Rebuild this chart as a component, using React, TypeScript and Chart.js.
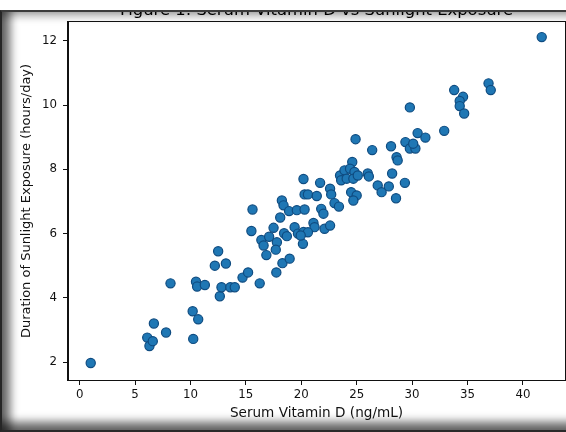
import React, { useEffect, useRef } from "react";
import { Chart, registerables } from "chart.js";

Chart.register(...registerables);

const chartTitle = "Figure 1: Serum Vitamin D vs Sunlight Exposure";
const xLabel = "Serum Vitamin D (ng/mL)";
const yLabel = "Duration of Sunlight Exposure (hours/day)";

const vitaminD = [
  1.0, 6.1, 6.3, 6.6, 6.7, 7.8, 8.2, 10.2, 10.25, 10.7,
  10.5, 10.6, 11.3, 12.2, 12.5, 13.2, 12.65, 12.8, 13.6, 14.0,
  14.7, 15.2, 16.25, 15.6, 15.5, 16.4, 16.6, 16.85, 17.1, 17.5,
  17.8, 17.7, 17.75, 18.3, 18.95, 18.1, 18.25, 18.4, 18.45, 18.7,
  18.9, 19.6, 20.3, 19.4, 19.7, 20.2, 20.15, 20.2, 21.7, 22.6,
  22.7, 20.3, 20.6, 21.4, 23.0, 23.4, 21.8, 22.0, 21.1, 21.2,
  22.1, 22.6, 20.6, 19.95, 24.9, 26.4, 24.6, 23.5, 23.9, 24.4,
  24.8, 23.6, 24.1, 24.7, 25.1, 26.0, 26.1, 24.5, 25.0, 24.7,
  26.9, 27.25, 27.9, 28.2, 29.35, 28.55, 28.1, 28.6, 28.7, 29.4,
  29.8, 30.3, 30.1, 30.5, 31.2, 32.9, 29.8, 33.8, 34.6, 34.3,
  34.3, 34.7, 36.9, 37.1, 41.7,
];

const sunlightHours = [
  1.97, 2.76, 2.5, 2.65, 3.2, 2.92, 4.45, 3.58, 2.72, 3.33,
  4.5, 4.35, 4.4, 5.0, 5.45, 5.07, 4.05, 4.33, 4.33, 4.33,
  4.63, 4.79, 4.45, 6.75, 6.08, 5.8, 5.63, 5.33, 5.9, 6.18,
  5.73, 5.5, 4.79, 5.08, 5.22, 6.5, 7.03, 6.88, 6.01, 5.92,
  6.7, 6.73, 6.75, 6.2, 6.0, 6.05, 5.68, 7.7, 7.58, 7.4,
  7.22, 7.22, 7.22, 7.17, 6.95, 6.84, 6.77, 6.62, 6.33, 6.2,
  6.15, 6.25, 6.04, 5.94, 8.94, 8.6, 8.23, 7.81, 7.97, 8.02,
  7.92, 7.66, 7.71, 7.71, 7.81, 7.87, 7.78, 7.29, 7.19, 7.03,
  7.5, 7.29, 7.47, 7.87, 7.58, 7.1, 8.72, 8.38, 8.28, 8.85,
  8.65, 8.65, 8.8, 9.13, 8.99, 9.2, 9.93, 10.47, 10.26, 10.13,
  9.97, 9.74, 10.68, 10.47, 12.12,
];

const xMin = -1.05;
const xMax = 43.8;
const yMin = 1.44;
const yMax = 12.59;
const xStep = 5;
const yStep = 2;

const FONT = "'DejaVu Sans', sans-serif";

export default function App() {
  const canvasRef = useRef<HTMLCanvasElement | null>(null);

  useEffect(() => {
    const canvas = canvasRef.current;
    if (!canvas) return;

    const framePlugin = {
      id: "framePlugin",
      afterDraw(chart: any) {
        const { ctx, chartArea } = chart;
        const { left, right, top, bottom } = chartArea;
        ctx.save();
        ctx.strokeStyle = "#111";
        ctx.lineWidth = 1;
        ctx.strokeRect(left - 0.5, top - 0.5, right - left + 1, bottom - top + 1);
        ctx.fillStyle = "#000";
        ctx.font = `16.4px ${FONT}`;
        ctx.textAlign = "center";
        ctx.textBaseline = "alphabetic";
        ctx.fillText(chartTitle, (left + right) / 2, 14.5);
        ctx.restore();
      },
    };

    const chart = new Chart(canvas, {
      type: "scatter",
      data: {
        datasets: [
          {
            data: vitaminD.map((x, i) => ({ x, y: sunlightHours[i] })),
            backgroundColor: "#1f77b4",
            borderColor: "#0f4c81",
            borderWidth: 1.2,
            pointRadius: 4.6,
            pointHoverRadius: 4.6,
          },
        ],
      },
      options: {
        animation: false,
        responsive: false,
        devicePixelRatio: 1,
        layout: { autoPadding: false, padding: { left: 0, right: 1, top: 22, bottom: 0 } },
        plugins: {
          legend: { display: false },
          tooltip: { enabled: false },
          title: { display: false },
        },
        scales: {
          x: {
            type: "linear",
            min: xMin,
            max: xMax,
            afterFit(scale: any) {
              scale.height = 52;
            },
            ticks: {
              stepSize: xStep,
              includeBounds: false,
              color: "#111",
              font: { family: FONT, size: 11.8 },
              padding: 3,
              maxRotation: 0,
            },
            grid: {
              display: true,
              drawOnChartArea: false,
              drawTicks: true,
              tickLength: 5,
              color: "#111",
            },
            border: { display: true, color: "#111" },
            title: {
              display: true,
              text: xLabel,
              color: "#111",
              font: { family: FONT, size: 13.6 },
              padding: { top: 0, bottom: 10 },
            },
          },
          y: {
            type: "linear",
            min: yMin,
            max: yMax,
            afterFit(scale: any) {
              scale.width = 68;
            },
            ticks: {
              stepSize: yStep,
              includeBounds: false,
              color: "#111",
              font: { family: FONT, size: 11.8 },
              padding: 6,
            },
            grid: {
              display: true,
              drawOnChartArea: false,
              drawTicks: true,
              tickLength: 5,
              color: "#111",
            },
            border: { display: true, color: "#111" },
            title: {
              display: true,
              text: yLabel,
              color: "#111",
              font: { family: FONT, size: 13 },
              padding: { top: 18.7, bottom: 0 },
            },
          },
        },
      },
      plugins: [framePlugin],
    });

    return () => {
      chart.destroy();
    };
  }, []);

  return (
    <div
      style={{
        position: "fixed",
        left: 0,
        top: 0,
        width: 566,
        height: 432,
        overflow: "hidden",
        background: "#fff",
      }}
    >
      <canvas
        ref={canvasRef}
        width={566}
        height={432}
        style={{ position: "absolute", left: 0, top: 0, width: 566, height: 432 }}
      />
      <div
        style={{
          position: "absolute",
          left: 0,
          top: 0,
          width: 566,
          height: 10,
          background: "#fff",
          pointerEvents: "none",
        }}
      />
      <div
        style={{
          position: "absolute",
          left: 0,
          top: 10,
          width: 640,
          height: 422,
          boxSizing: "border-box",
          borderTop: "2px solid #3c3c3c",
          borderLeft: "2px solid #262626",
          borderBottom: "2px solid #2a2a2a",
          boxShadow:
            "inset 14px 0 10px -6px rgba(0,0,0,0.6), inset 0 10px 8px -6px rgba(0,0,0,0.35), inset 0 -14px 10px -6px rgba(0,0,0,0.6)",
          pointerEvents: "none",
        }}
      />
    </div>
  );
}
